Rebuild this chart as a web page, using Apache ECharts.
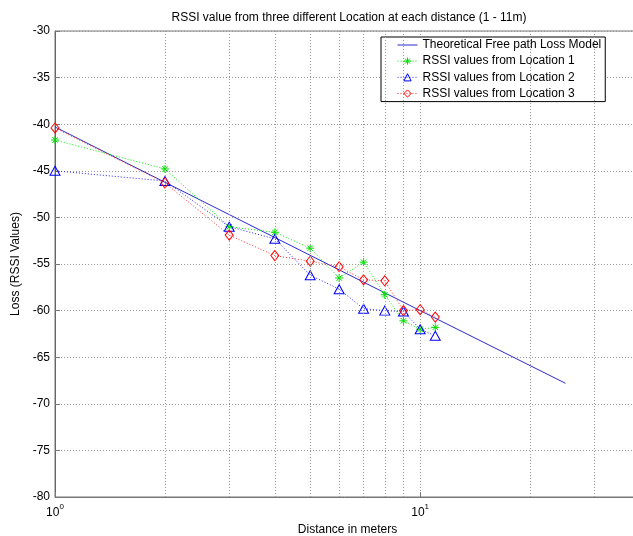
<!DOCTYPE html>
<html>
<head>
<meta charset="utf-8">
<script src="https://cdn.jsdelivr.net/npm/echarts@6/dist/echarts.min.js"></script>
<style>html,body{margin:0;padding:0;background:#fff}#c{width:633px;height:536px}</style>
</head>
<body>
<div id="c"></div>
<script>
const distances = [1, 2, 3, 4, 5, 6, 7, 8, 9, 10, 11];
const location1 = [-41.7, -44.8, -51.0, -51.6, -53.3, -56.5, -54.8, -58.3, -61.1, -62.0, -61.8];
const location2 = [-45.0, -46.1, -51.0, -52.3, -56.2, -57.7, -59.8, -60.0, -60.1, -62.0, -62.7];
const location3 = [-40.4, -46.3, -51.9, -54.1, -54.7, -55.3, -56.7, -56.8, -60.0, -59.9, -60.7];
const modelDistances = [1, 10, 25];
const modelValues = [-40.3, -60.0, -67.8];
const minorGridDistances = [2, 3, 4, 5, 6, 7, 8, 9, 20, 30];
const yTicks = { min: -80, max: -30, interval: 5 };
const xRange = { min: 1, max: 40 };
const names = ['Theoretical Free path Loss Model', 'RSSI values from Location 1', 'RSSI values from Location 2', 'RSSI values from Location 3'];

const zip = (xs, ys) => xs.map((x, i) => [x, ys[i]]);
const FONT = 'Liberation Sans, Arial, sans-serif';
const asterisk = 'path://M0,5L10,5M5,0L5,10M1.6,1.6L8.4,8.4M8.4,1.6L1.6,8.4';
const DOT = [1, 2];
const GRIDDOT = [1, 2];

const chart = echarts.init(document.getElementById('c'));
chart.setOption({
  animation: false,
  backgroundColor: '#fff',
  textStyle: { fontFamily: FONT },
  title: {
    text: 'RSSI value from three different Location at each distance (1 - 11m)',
    left: 344, top: 7, textAlign: 'center',
    textStyle: { fontSize: 12, fontWeight: 'normal', color: '#000', fontFamily: FONT }
  },
  grid: { left: 55, right: -7, top: 31, bottom: 39, outerBoundsMode: 'none', containLabel: false,
          show: true, borderColor: '#777', borderWidth: 1, backgroundColor: 'transparent' },
  legend: {
    data: [
      { name: names[0], itemStyle: { color: 'rgba(0,0,0,0)', borderColor: 'rgba(0,0,0,0)', borderWidth: 0, opacity: 0 } },
      { name: names[1], lineStyle: { type: DOT, width: 1 } },
      { name: names[2], lineStyle: { type: DOT, width: 1 } },
      { name: names[3], lineStyle: { type: DOT, width: 1 } }
    ],
    orient: 'vertical',
    left: 381, top: 37,
    padding: [2, 4, 2, 16],
    itemWidth: 20, itemHeight: 9, itemGap: 4,
    lineStyle: { width: 1 },
    itemStyle: { borderWidth: 1 },
    backgroundColor: '#fff', borderColor: '#000', borderWidth: 1,
    textStyle: { fontSize: 12, color: '#000', fontFamily: FONT }
  },
  xAxis: {
    type: 'log', logBase: 10, min: xRange.min, max: xRange.max,
    name: 'Distance in meters', nameLocation: 'middle', nameGap: 18,
    nameTextStyle: { fontSize: 12, color: '#000', fontFamily: FONT },
    axisLine: { lineStyle: { color: '#777' } },
    axisTick: { inside: true, length: 5, lineStyle: { color: '#777' } },
    axisLabel: {
      margin: 6, color: '#000',
      formatter: v => (Math.abs(v - 1) < 1e-9 ? '{a|10}{b|0}' : Math.abs(v - 10) < 1e-9 ? '{a|10}{b|1}' : ''),
      rich: {
        a: { fontSize: 12, fontFamily: FONT, color: '#000', lineHeight: 16, verticalAlign: 'bottom' },
        b: { fontSize: 8, fontFamily: FONT, color: '#000', lineHeight: 16, verticalAlign: 'top' }
      }
    },
    splitLine: { show: true, lineStyle: { type: GRIDDOT, color: '#999' } }
  },
  yAxis: {
    type: 'value', min: yTicks.min, max: yTicks.max, interval: yTicks.interval,
    name: 'Loss (RSSI Values)', nameLocation: 'middle', nameGap: 31,
    nameTextStyle: { fontSize: 12, color: '#000', fontFamily: FONT },
    axisLine: { show: true, lineStyle: { color: '#666' } },
    axisTick: { show: true, inside: true, length: 5, lineStyle: { color: '#777' } },
    axisLabel: { fontSize: 12, color: '#000', margin: 5 },
    splitLine: { show: true, lineStyle: { type: GRIDDOT, color: '#999' } }
  },
  series: [
    {
      name: 'minor grid', type: 'line', data: [], silent: true, z: 1,
      markLine: {
        silent: true, symbol: 'none', animation: false,
        label: { show: false },
        lineStyle: { type: GRIDDOT, color: '#999', width: 1 },
        data: minorGridDistances.map(v => ({ xAxis: v }))
      }
    },
    {
      name: names[0], type: 'line', data: zip(modelDistances, modelValues),
      showSymbol: false, symbol: 'none',
      lineStyle: { color: '#2a2acc', width: 1 }, itemStyle: { color: '#2a2acc' }, z: 3
    },
    {
      name: names[1], type: 'line', data: zip(distances, location1),
      symbol: asterisk, symbolSize: 8,
      lineStyle: { color: '#00ee00', width: 1, type: DOT },
      itemStyle: { color: 'none', borderColor: '#00dd00', borderWidth: 1 }, z: 4
    },
    {
      name: names[2], type: 'line', data: zip(distances, location2),
      symbol: 'triangle', symbolSize: [10, 9],
      lineStyle: { color: '#2222ff', width: 1, type: DOT },
      itemStyle: { color: 'none', borderColor: '#0000ff', borderWidth: 1 }, z: 4
    },
    {
      name: names[3], type: 'line', data: zip(distances, location3),
      symbol: 'diamond', symbolSize: [8, 10],
      lineStyle: { color: '#ff3333', width: 1, type: DOT },
      itemStyle: { color: 'none', borderColor: '#ff0000', borderWidth: 1 }, z: 4
    }
  ]
});
</script>
</body>
</html>
